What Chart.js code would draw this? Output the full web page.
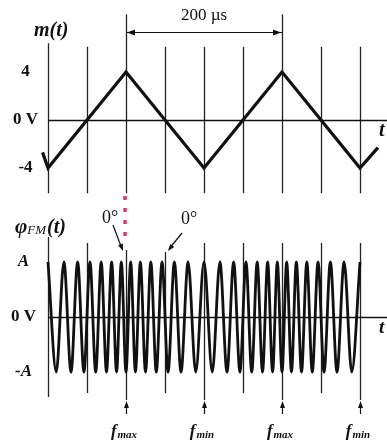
<!DOCTYPE html>
<html lang="en">
<head>
<meta charset="UTF-8">
<title>m(t) and FM signal</title>
<script src="https://cdn.jsdelivr.net/npm/chart.js"></script>
<style>
    body { margin: 0; background: #fff; }
    canvas { position: absolute; left: 0; }
    #topCanvas { top: 0; }
    #bottomCanvas { top: 190px; }
</style>
</head>
<body>
<canvas id="topCanvas" width="387" height="200"></canvas>
<canvas id="bottomCanvas" width="387" height="253"></canvas>
<script>
// time axis in microseconds
const gridTimes = [0, 50, 100, 150, 200, 250, 300, 350, 400];

// m(t): corners of the triangle wave
const mTimes  = [-7, 0, 100, 200, 300, 400, 423];
const mValues = [-2.7, -4, 4, -4, 4, -4, -2.3];
const mTicks = [4, 0, -4];
const mTickLabels = ['4', '0 V', '-4'];

// FM signal: times of the successive peaks and troughs
const fmTimes = [0, 10.6, 20.4, 29.5, 38, 46.1, 53.8, 61.2, 68.2, 75, 81.6, 87.9, 94,
    100, 106, 112.1, 118.4, 125, 131.8, 138.8, 146.2, 153.9, 162, 170.5, 179.6, 189.4,
    200, 210.6, 220.4, 229.5, 238, 246.1, 253.8, 261.2, 268.2, 275, 281.6, 287.9, 294,
    300, 306, 312.1, 318.4, 325, 331.8, 338.8, 346.2, 353.9, 362, 370.5, 379.6, 389.4, 400];
const fmValues = [1, -1, 1, -1, 1, -1, 1, -1, 1, -1, 1, -1, 1,
    -1, 1, -1, 1, -1, 1, -1, 1, -1, 1, -1, 1, -1,
    1, -1, 1, -1, 1, -1, 1, -1, 1, -1, 1, -1, 1,
    -1, 1, -1, 1, -1, 1, -1, 1, -1, 1, -1, 1, -1, 1];
const fmTicks = [1, 0, -1];
const fmTickLabels = ['A', '0 V', '-A'];

const markerTimes = [100, 200, 300, 400];
const markerLabels = ['max', 'min', 'max', 'min'];
const zeroPhaseTimes = [100, 150];

const SERIF = '"Liberation Serif", "DejaVu Serif", serif';
const INK = '#111';

function seg(ctx, x1, y1, x2, y2) {
    ctx.beginPath();
    ctx.moveTo(x1, y1);
    ctx.lineTo(x2, y2);
    ctx.stroke();
}

function arrowHead(ctx, tipX, tipY, fromX, fromY, len, half) {
    const a = Math.atan2(tipY - fromY, tipX - fromX);
    ctx.beginPath();
    ctx.moveTo(tipX, tipY);
    ctx.lineTo(tipX - len * Math.cos(a) + half * Math.sin(a), tipY - len * Math.sin(a) - half * Math.cos(a));
    ctx.lineTo(tipX - len * Math.cos(a) - half * Math.sin(a), tipY - len * Math.sin(a) + half * Math.cos(a));
    ctx.closePath();
    ctx.fill();
}

const topDecor = {
    id: 'topDecor',
    beforeDatasetsDraw(chart) {
        const { ctx, scales: { x, y } } = chart;
        ctx.save();
        ctx.strokeStyle = '#222';
        ctx.lineWidth = 1.3;
        gridTimes.forEach(t => {
            const px = Math.round(x.getPixelForValue(t)) + 0.5;
            let top = y.getPixelForValue(6.1);
            if (t === 0) top = y.getPixelForValue(6.4);
            if (t === 100 || t === 300) top = y.getPixelForValue(8.8);
            seg(ctx, px, top, px, y.getPixelForValue(-6.1));
        });
        const y0 = Math.round(y.getPixelForValue(0)) + 0.5;
        ctx.strokeStyle = INK;
        ctx.lineWidth = 1.5;
        seg(ctx, x.getPixelForValue(0), y0, chart.width, y0);

        // 200 us dimension line
        const dy = Math.round(y.getPixelForValue(7.35)) + 0.5;
        const xa = x.getPixelForValue(100), xb = x.getPixelForValue(300);
        ctx.lineWidth = 1.1;
        seg(ctx, xa, dy, xb, dy);
        ctx.fillStyle = INK;
        arrowHead(ctx, xa + 1, dy, xb, dy, 8, 3);
        arrowHead(ctx, xb - 1, dy, xa, dy, 8, 3);
        ctx.restore();
    },
    afterDatasetsDraw(chart) {
        const { ctx, scales: { x, y } } = chart;
        ctx.save();
        ctx.fillStyle = INK;
        ctx.textBaseline = 'middle';
        ctx.textAlign = 'center';
        ctx.font = '17px ' + SERIF;
        ctx.fillText('200 \u00b5s', x.getPixelForValue(200), 16);
        ctx.textAlign = 'left';
        ctx.font = 'italic bold 20px ' + SERIF;
        ctx.fillText('m(t)', 34, 31);
        ctx.fillText('t', 379, y.getPixelForValue(0) + 11);
        ctx.restore();
    }
};

const bottomDecor = {
    id: 'bottomDecor',
    beforeDatasetsDraw(chart) {
        const { ctx, scales: { x, y } } = chart;
        const y0 = y.getPixelForValue(0);
        ctx.save();
        ctx.strokeStyle = '#222';
        ctx.lineWidth = 1.3;
        gridTimes.forEach(t => {
            const px = Math.round(x.getPixelForValue(t)) + 0.5;
            let top = y0 - 74, bottom = y0 + 76;
            if (t === 0) { top = y0 - 80; bottom = y0 + 80; }
            if (markerTimes.includes(t)) bottom = y0 + 83;
            if (t === 100) top = y0 - 67;
            if (t === 150) top = y0 - 65;
            seg(ctx, px, top, px, bottom);
        });
        ctx.strokeStyle = INK;
        ctx.lineWidth = 1.5;
        const yl = Math.round(y0) + 0.5;
        seg(ctx, x.getPixelForValue(0), yl, chart.width, yl);
        ctx.restore();
    },
    afterDatasetsDraw(chart) {
        const { ctx, scales: { x, y } } = chart;
        const y0 = y.getPixelForValue(0);
        ctx.save();
        ctx.fillStyle = INK;
        ctx.strokeStyle = INK;

        // pink dotted pen mark above the first f_max line
        ctx.save();
        ctx.strokeStyle = '#e8336d';
        ctx.lineWidth = 3.5;
        ctx.setLineDash([4, 8]);
        const pm = x.getPixelForValue(100) - 1;
        seg(ctx, pm, 6, pm, y0 - 76);
        ctx.restore();

        // phi_FM(t) label
        ctx.textBaseline = 'alphabetic';
        ctx.textAlign = 'left';
        let cx = 15;
        const base = 43;
        ctx.font = 'italic bold 21px ' + SERIF;
        ctx.fillText('\u03c6', cx, base);
        cx += ctx.measureText('\u03c6').width;
        ctx.font = 'italic 13px ' + SERIF;
        ctx.fillText('FM', cx, base + 1);
        cx += ctx.measureText('FM').width + 1;
        ctx.font = 'italic bold 20px ' + SERIF;
        ctx.fillText('(t)', cx, base);

        // 0 degree markers
        ctx.font = '18px ' + SERIF;
        ctx.textAlign = 'center';
        ctx.fillText('0\u00b0', x.getPixelForValue(100) - 16, 33);
        ctx.fillText('0\u00b0', x.getPixelForValue(150) + 24, 34);
        ctx.lineWidth = 1.2;
        const p1 = x.getPixelForValue(zeroPhaseTimes[0]);
        const p2 = x.getPixelForValue(zeroPhaseTimes[1]);
        seg(ctx, p1 - 13, 35, p1 - 4, y0 - 68);
        arrowHead(ctx, p1 - 3, y0 - 66, p1 - 13, 35, 7, 2.5);
        seg(ctx, p2 + 17, 43, p2 + 4, y0 - 68);
        arrowHead(ctx, p2 + 3, y0 - 66, p2 + 17, 43, 7, 2.5);

        // f_max / f_min arrows and labels
        markerTimes.forEach((t, i) => {
            const px = Math.round(x.getPixelForValue(t)) + 0.5;
            ctx.lineWidth = 1.2;
            seg(ctx, px, y0 + 97, px, y0 + 89);
            arrowHead(ctx, px, y0 + 84, px, y0 + 97, 7, 2.5);
            ctx.font = 'italic bold 17px ' + SERIF;
            const fw = ctx.measureText('f').width;
            ctx.font = 'italic bold 11px ' + SERIF;
            const sw = ctx.measureText(markerLabels[i]).width;
            const start = px - 3 - (fw + sw) / 2;
            ctx.textAlign = 'left';
            ctx.font = 'italic bold 17px ' + SERIF;
            ctx.fillText('f', start, y0 + 119);
            ctx.font = 'italic bold 11px ' + SERIF;
            ctx.fillText(markerLabels[i], start + fw + 1, y0 + 121);
        });

        ctx.font = 'italic bold 19px ' + SERIF;
        ctx.textBaseline = 'middle';
        ctx.fillText('t', 379, y0 + 11);
        ctx.restore();
    }
};

function yAxis(min, max, tickValues, tickLabels, pad, italicLetters) {
    return {
        min: min,
        max: max,
        grid: { display: false, drawTicks: false },
        border: { display: false },
        afterBuildTicks: s => { s.ticks = tickValues.map(v => ({ value: v })); },
        afterFit: s => { s.width = 48; s.paddingTop = 0; s.paddingBottom = 0; },
        ticks: {
            crossAlign: 'center',
            padding: pad,
            color: INK,
            autoSkip: false,
            font: c => ({
                family: SERIF,
                size: 17,
                weight: 'bold',
                style: italicLetters && c.tick && c.tick.value !== 0 ? 'italic' : 'normal'
            }),
            callback: v => tickLabels[tickValues.indexOf(v)]
        }
    };
}

const xAxis = { type: 'linear', display: false, min: 0, max: 434.6 };

new Chart(document.getElementById('topCanvas'), {
    type: 'line',
    data: {
        datasets: [{
            data: mTimes.map((t, i) => ({ x: t, y: mValues[i] })),
            borderColor: INK,
            borderWidth: 3.2,
            pointRadius: 0,
            tension: 0,
            clip: false
        }]
    },
    options: {
        responsive: false,
        animation: false,
        layout: { padding: 0 },
        plugins: { legend: { display: false }, tooltip: { enabled: false } },
        scales: { x: xAxis, y: yAxis(-80 / 12, 10, mTicks, mTickLabels, 10, false) }
    },
    plugins: [topDecor]
});

new Chart(document.getElementById('bottomCanvas'), {
    type: 'line',
    data: {
        datasets: [{
            data: fmTimes.map((t, i) => ({ x: t, y: fmValues[i] })),
            borderColor: INK,
            borderWidth: 2.8,
            pointRadius: 0,
            cubicInterpolationMode: 'monotone',
            clip: false
        }]
    },
    options: {
        responsive: false,
        animation: false,
        layout: { padding: 0 },
        plugins: { legend: { display: false }, tooltip: { enabled: false } },
        scales: { x: xAxis, y: yAxis(-126 / 55, 127 / 55, fmTicks, fmTickLabels, 12, true) }
    },
    plugins: [bottomDecor]
});
</script>
</body>
</html>
